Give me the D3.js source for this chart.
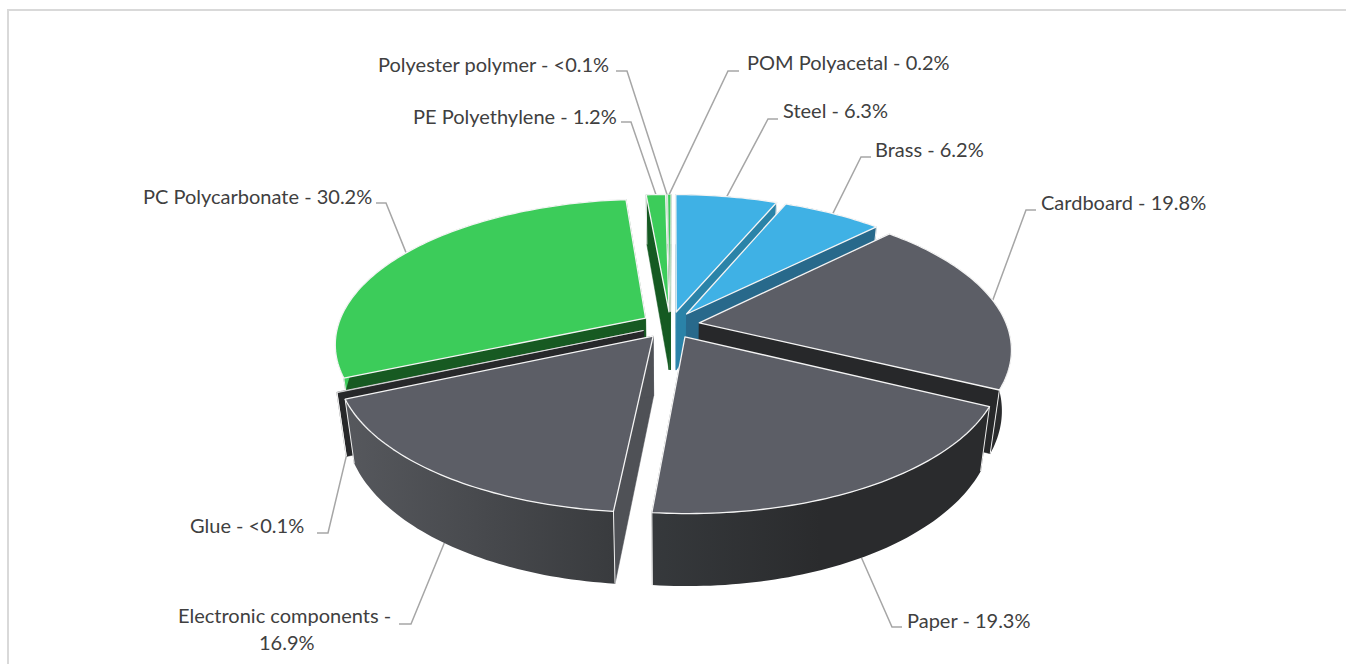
<!DOCTYPE html>
<html>
<head>
<meta charset="utf-8">
<script src="https://cdn.jsdelivr.net/npm/d3@7"></script>
<style>
  html, body { margin: 0; padding: 0; background: #fff; overflow: hidden; }
  text { font-family: Lato, "Open Sans", sans-serif; font-size: 20px; fill: #404040; }
</style>
</head>
<body>
<svg id="pie-svg"></svg>
<script>
const width = 1346;
const height = 664;

// Clockwise from the top
const materials = ["Steel", "Brass", "Cardboard", "Paper", "Electronic components", "Glue",
  "PC Polycarbonate", "PE Polyethylene", "Polyester polymer", "POM Polyacetal"];
const shares = [6.3, 6.2, 19.8, 19.3, 16.9, 0.05, 30.2, 1.2, 0.05, 0.2];
const shareLabels = ["6.3%", "6.2%", "19.8%", "19.3%", "16.9%", "<0.1%", "30.2%", "1.2%", "<0.1%", "0.2%"];

// Styles per material
const topColor = { Steel: "#3fb1e5", Brass: "#3fb1e5", Cardboard: "#5c5e66", Paper: "#5c5e66",
  "Electronic components": "#5c5e66", Glue: "#5c5e66", "PC Polycarbonate": "#3ccc5a",
  "PE Polyethylene": "#3ccc5a", "Polyester polymer": "#3ccc5a", "POM Polyacetal": "#3ccc5a" };
const cutColor = { Steel: "#2a83a8", Brass: "#28698b", Cardboard: "#27282a", Paper: "#27282a",
  "Electronic components": "#4f5156", Glue: "#27282a", "PC Polycarbonate": "#175a22",
  "PE Polyethylene": "#155a22", "Polyester polymer": "#155a22", "POM Polyacetal": "#155a22" };
const rimStops = { Steel: ["#2a83a8", "#2a83a8"], Brass: ["#28698b", "#28698b"],
  Cardboard: ["#2a2b2d", "#2a2b2d"], Paper: ["#36393c", "#2a2b2d", "#2a2b2d"],
  "Electronic components": ["#56585d", "#393b3e"], Glue: ["#2a2b2d", "#2a2b2d"],
  "PC Polycarbonate": ["#3ccc5a", "#3ccc5a"], "PE Polyethylene": ["#155a22", "#155a22"],
  "Polyester polymer": ["#155a22", "#155a22"], "POM Polyacetal": ["#155a22", "#155a22"] };
const explode = 0.095;

// Label layout: text start, baseline, then the elbow of the leader line
const labelLayout = {
  Steel: { x: 783, y: 118, from: 778, elbow: [768, 119] },
  Brass: { x: 875, y: 157, from: 871, elbow: [861, 157] },
  Cardboard: { x: 1041, y: 210, from: 1036, elbow: [1026, 210] },
  Paper: { x: 907, y: 628, from: 902, elbow: [892, 627] },
  "Electronic components": { x: 178, y: 623, from: 399, elbow: [411, 624] },
  Glue: { x: 190, y: 533, from: 317, elbow: [328, 533] },
  "PC Polycarbonate": { x: 143, y: 204, from: 376, elbow: [386, 203] },
  "PE Polyethylene": { x: 413, y: 124, from: 621, elbow: [631, 122] },
  "Polyester polymer": { x: 378, y: 72, from: 616, elbow: [627, 71] },
  "POM Polyacetal": { x: 747, y: 70, from: 739, elbow: [728, 71] }
};

const svg = d3.select("#pie-svg")
  .attr("width", width)
  .attr("height", height)
  .attr("viewBox", `0 0 ${width} ${height}`)
  .style("display", "block");

// Chart frame
svg.append("path")
  .attr("d", `M8,${height}V10H${width}`)
  .attr("fill", "none")
  .attr("stroke", "#d9d9d9")
  .attr("stroke-width", 2);

// Tilted disc with perspective: u to the right, v towards the viewer
const cx = 670.5, cy = 325, rx = 307.5, ry = 141.7, persp = 0.172, depth = 59, shrink = 0.972;

function project(u, v, bottom) {
  const s = 1 / (1 - persp * v);
  const x = cx + rx * u * s;
  const y = cy + ry * v * s;
  return bottom ? [cx + (x - cx) * shrink, y + depth * s] : [x, y];
}

const startOffset = 0.1 * Math.PI / 180;
const pie = d3.pie()
  .sort(null)
  .value(d => d.share)
  .startAngle(startOffset)
  .endAngle(startOffset + 2 * Math.PI);

const rows = materials.map((name, i) => ({ name, share: shares[i], label: shareLabels[i] }));
const slices = pie(rows).map(d => {
  const mid = (d.startAngle + d.endAngle) / 2;
  const ox = explode * Math.sin(mid);
  const oy = -explode * Math.cos(mid);
  const n = Math.max(2, Math.ceil((d.endAngle - d.startAngle) / 0.02));
  const angles = d3.range(n + 1).map(i => d.startAngle + (d.endAngle - d.startAngle) * i / n);
  const rim = angles.map(a => [ox + Math.sin(a), oy - Math.cos(a)]);
  return { ...d, mid, ox, oy, rim, name: d.data.name };
});

const line = d3.line();
const closed = pts => line(pts) + "Z";

const defs = svg.append("defs");
slices.forEach((d, i) => {
  const stops = rimStops[d.name];
  const grad = defs.append("linearGradient").attr("id", `rim-${i}`);
  stops.forEach((c, j) => grad.append("stop")
    .attr("offset", j / (stops.length - 1))
    .attr("stop-color", c));
});

// Leader lines go under the pie
slices.forEach(d => {
  const l = labelLayout[d.name];
  const front = Math.cos(d.mid) < -0.3;
  const end = project(d.ox + Math.sin(d.mid), d.oy - Math.cos(d.mid), front);
  svg.append("path")
    .attr("d", line([[l.from, l.elbow[1]], l.elbow, end]))
    .attr("fill", "none")
    .attr("stroke", "#a6a6a6")
    .attr("stroke-width", 1.5);
});

// Back slices first
const ordered = slices.map((d, i) => ({ d, i })).sort((a, b) => -Math.cos(a.d.mid) + Math.cos(b.d.mid));
ordered.forEach(({ d, i }) => {
  const g = svg.append("g").attr("class", "slice");
  const apex = [d.ox, d.oy];
  const first = d.rim[0];
  const last = d.rim[d.rim.length - 1];

  [first, last].forEach(p => {
    g.append("path")
      .attr("d", closed([project(...apex), project(...p), project(...p, true), project(...apex, true)]))
      .attr("fill", cutColor[d.name])
      .attr("stroke", cutColor[d.name])
      .attr("stroke-width", 0.5);
  });

  g.append("path")
    .attr("d", closed([...d.rim.map(p => project(...p)), ...d.rim.slice().reverse().map(p => project(...p, true))]))
    .attr("fill", `url(#rim-${i})`);

  [first, last].forEach(p => {
    g.append("path")
      .attr("d", line([project(...p), project(...p, true)]))
      .attr("stroke", "#eee")
      .attr("stroke-width", 1)
      .attr("fill", "none");
  });

  // Very thin slices keep a finer outline, otherwise the white hides the colour
  g.append("path")
    .attr("d", closed([project(...apex), ...d.rim.map(p => project(...p))]))
    .attr("fill", topColor[d.name])
    .attr("stroke", "#f4f4f4")
    .attr("stroke-width", d.data.share < 1 ? 0.7 : 1.3)
    .attr("stroke-linejoin", "round");
});

// Labels
slices.forEach(d => {
  const l = labelLayout[d.name];
  if (d.name === "Electronic components") {
    svg.append("text").attr("x", l.x).attr("y", l.y).text(`${d.name} -`);
    svg.append("text").attr("x", 259).attr("y", 650).text(d.data.label);
  } else {
    svg.append("text").attr("x", l.x).attr("y", l.y).text(`${d.name} - ${d.data.label}`);
  }
});
</script>
</body>
</html>
